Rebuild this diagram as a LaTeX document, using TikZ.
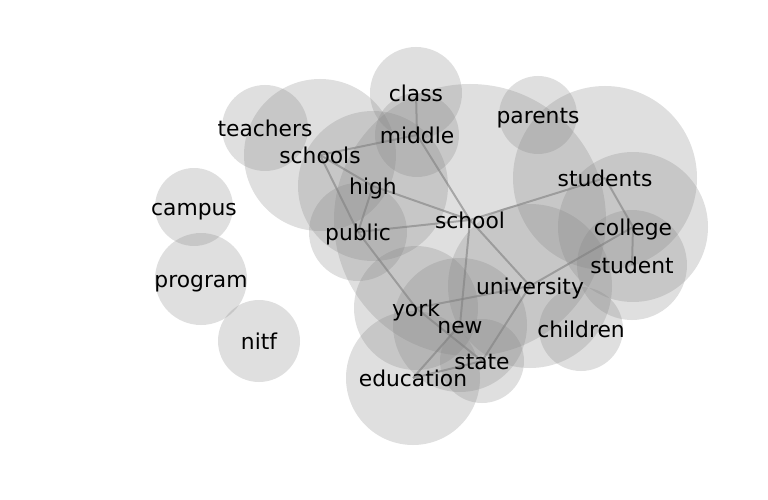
\documentclass[tikz,border=0pt]{standalone}
\usepackage{fontspec}
\setmainfont{DejaVu Sans}
\usetikzlibrary{positioning}

\begin{document}
\begin{tikzpicture}[
        x=1pt, y=-1pt,
        every node/.style={font=\fontsize{21.8}{26}\selectfont},
        bubble/.style={circle, fill=gray, fill opacity=0.25, inner sep=0pt},
        word/.style={text=black, inner sep=0pt, text height=16.6pt, text depth=5.1pt, yshift=-2.5pt},
        link/.style={draw=black!50, draw opacity=0.6, line width=2pt},
    ]
        \useasboundingbox (0,0) rectangle (768,500);

        % bubbles
        \node[bubble, minimum size=92pt] (class) at (416,93) {};
        \node[bubble, minimum size=86pt] (teachers) at (265,128) {};
        \node[bubble, minimum size=152pt] (schools) at (320,155) {};
        \node[bubble, minimum size=84pt] (middle) at (417,135) {};
        \node[bubble, minimum size=150pt] (high) at (373,186) {};
        \node[bubble, minimum size=78pt] (campus) at (194,207) {};
        \node[bubble, minimum size=98pt] (public) at (358,232) {};
        \node[bubble, minimum size=272pt] (school) at (470,220) {};
        \node[bubble, minimum size=78pt] (parents) at (538,115) {};
        \node[bubble, minimum size=184pt] (students) at (605,178) {};
        \node[bubble, minimum size=150pt] (college) at (633,227) {};
        \node[bubble, minimum size=110pt] (student) at (632,265) {};
        \node[bubble, minimum size=164pt] (university) at (530,286) {};
        \node[bubble, minimum size=124pt] (york) at (416,308) {};
        \node[bubble, minimum size=134pt] (new) at (460,325) {};
        \node[bubble, minimum size=84pt] (state) at (482,361) {};
        \node[bubble, minimum size=134pt] (education) at (413,378) {};
        \node[bubble, minimum size=84pt] (children) at (581,329) {};
        \node[bubble, minimum size=92pt] (program) at (201,279) {};
        \node[bubble, minimum size=82pt] (nitf) at (259,341) {};

        % links
        \draw[link] (class.center) -- (middle.center);
        \draw[link] (schools.center) -- (middle.center);
        \draw[link] (middle.center) -- (school.center);
        \draw[link] (schools.center) -- (high.center);
        \draw[link] (high.center) -- (school.center);
        \draw[link] (high.center) -- (public.center);
        \draw[link] (schools.center) -- (public.center);
        \draw[link] (public.center) -- (school.center);
        \draw[link] (public.center) -- (york.center);
        \draw[link] (york.center) -- (state.center);
        \draw[link] (school.center) -- (new.center);
        \draw[link] (school.center) -- (university.center);
        \draw[link] (school.center) -- (students.center);
        \draw[link] (students.center) -- (college.center);
        \draw[link] (college.center) -- (student.center);
        \draw[link] (college.center) -- (university.center);
        \draw[link] (york.center) -- (university.center);
        \draw[link] (university.center) -- (state.center);
        \draw[link] (new.center) -- (education.center);
        \draw[link] (education.center) -- (state.center);

        % words
        \node[word] (class-w) at (class) {class};
        \node[word] (teachers-w) at (teachers) {teachers};
        \node[word] (schools-w) at (schools) {schools};
        \node[word] (middle-w) at (middle) {middle};
        \node[word] (high-w) at (high) {high};
        \node[word] (campus-w) at (campus) {campus};
        \node[word] (public-w) at (public) {public};
        \node[word] (school-w) at (school) {school};
        \node[word] (parents-w) at (parents) {parents};
        \node[word] (students-w) at (students) {students};
        \node[word] (college-w) at (college) {college};
        \node[word] (student-w) at (student) {student};
        \node[word] (university-w) at (university) {university};
        \node[word] (york-w) at (york) {york};
        \node[word] (new-w) at (new) {new};
        \node[word] (state-w) at (state) {state};
        \node[word] (education-w) at (education) {education};
        \node[word] (children-w) at (children) {children};
        \node[word] (program-w) at (program) {program};
        \node[word] (nitf-w) at (nitf) {nitf};

    \end{tikzpicture}
\end{document}
